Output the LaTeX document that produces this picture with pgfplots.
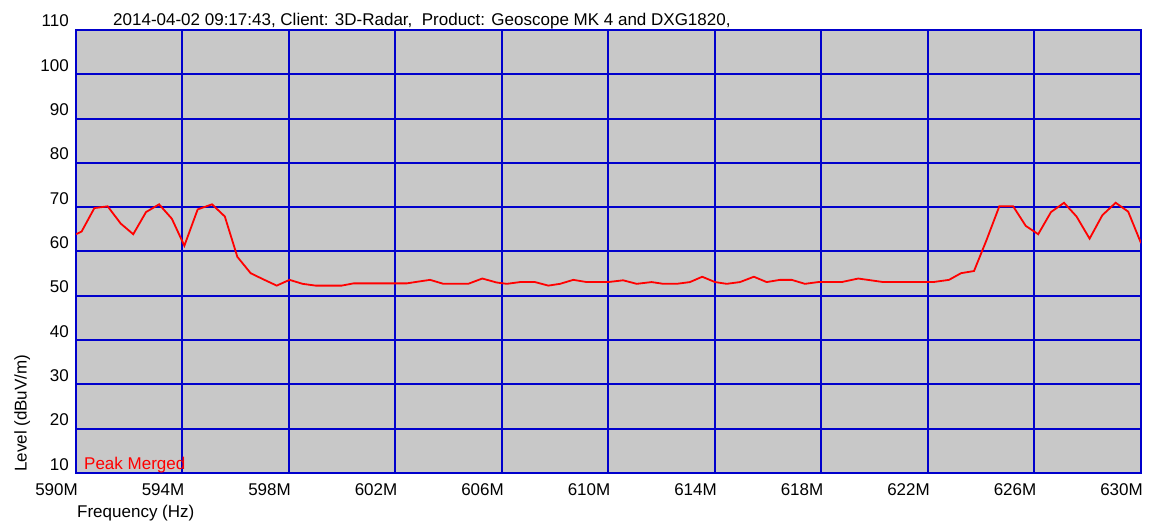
\documentclass[border=0pt]{standalone}
\usepackage{fontspec}
\setmainfont{Liberation Sans}
\usepackage{pgfplots}
\pgfplotsset{compat=1.18}
\definecolor{gridblue}{RGB}{0,0,204}
\definecolor{bggray}{RGB}{200,200,200}
\begin{document}
\fontsize{17}{20}\selectfont
\begin{tikzpicture}[x=1pt,y=1pt]
\useasboundingbox (0,0) rectangle (1158,522);
\begin{axis}[
  at={(76pt,49pt)}, anchor=south west,
  scale only axis, width=1065pt, height=443pt,
  xmin=590, xmax=630, ymin=10, ymax=110,
  xtick={590,594,598,602,606,610,614,618,622,626,630},
  xticklabels={590M,594M,598M,602M,606M,610M,614M,618M,622M,626M,630M},
  ytick={10,20,30,40,50,60,70,80,90,100,110},
  grid=major, grid style={gridblue, line width=2pt},
  axis line style={gridblue, line width=2pt},
  axis background/.style={fill=bggray},
  major tick length=0pt,
  tick label style={font=\fontsize{17}{20}\selectfont},
  yticklabel style={anchor=base east, inner sep=0pt, xshift=-7pt, yshift=3pt},
  xticklabel style={anchor=base east, inner sep=0pt, xshift=2pt, yshift=-22pt},
  /pgf/number format/assume math mode=true,
  clip=true,
]
\addplot[red, line width=1.8pt] coordinates {
(590.00,63.9) (590.21,64.5) (590.69,69.8) (591.19,70.2) (591.68,66.3)
(592.15,63.9) (592.63,68.9) (593.12,70.65) (593.60,67.4) (594.07,61.3)
(594.57,69.5) (595.11,70.65) (595.59,67.9) (596.06,58.8) (596.56,55.1)
(597.04,53.7) (597.54,52.3) (598.02,53.6) (598.51,52.7) (599.00,52.3)
(599.50,52.3) (599.98,52.3) (600.42,52.8) (600.92,52.8) (601.42,52.8)
(601.92,52.8) (602.42,52.8) (602.85,53.2) (603.30,53.6) (603.80,52.7)
(604.25,52.7) (604.73,52.7) (605.26,53.9) (605.80,53.0) (606.18,52.7)
(606.68,53.1) (607.24,53.1) (607.74,52.3) (608.18,52.7) (608.68,53.6)
(609.18,53.1) (609.60,53.1) (609.99,53.1) (610.55,53.5) (611.06,52.7)
(611.62,53.1) (612.06,52.7) (612.56,52.7) (613.06,53.1) (613.52,54.3)
(614.00,53.1) (614.44,52.7) (614.94,53.1) (615.46,54.3) (615.94,53.1)
(616.44,53.6) (616.88,53.6) (617.38,52.7) (617.88,53.1) (618.30,53.1)
(618.76,53.1) (619.38,53.9) (619.85,53.5) (620.32,53.1) (620.80,53.1)
(621.25,53.1) (621.70,53.1) (622.20,53.1) (622.79,53.6) (623.24,55.1)
(623.73,55.6) (624.20,62.6) (624.68,70.2) (625.20,70.2) (625.67,65.8)
(626.14,63.9) (626.62,68.9) (627.11,71.0) (627.58,67.9) (628.07,62.9)
(628.55,68.2) (629.05,71.0) (629.52,69.0) (630.00,61.9)
};
\node[anchor=base west, inner sep=0pt, text=red] at ([xshift=8pt,yshift=4pt]rel axis cs:0,0) {Peak Merged};
\end{axis}
\node[anchor=base west, inner sep=0pt] at (113,496) {2014-04-02 09:17:43, Client: 3D-Radar,\ \ Product: Geoscope MK 4 and DXG1820,};
\node[anchor=base west, inner sep=0pt] at (77,5) {Frequency (Hz)};
\node[rotate=90, anchor=base west, inner sep=0pt] at (26.7,50) {Level (dBuV/m)};
\end{tikzpicture}
\end{document}
